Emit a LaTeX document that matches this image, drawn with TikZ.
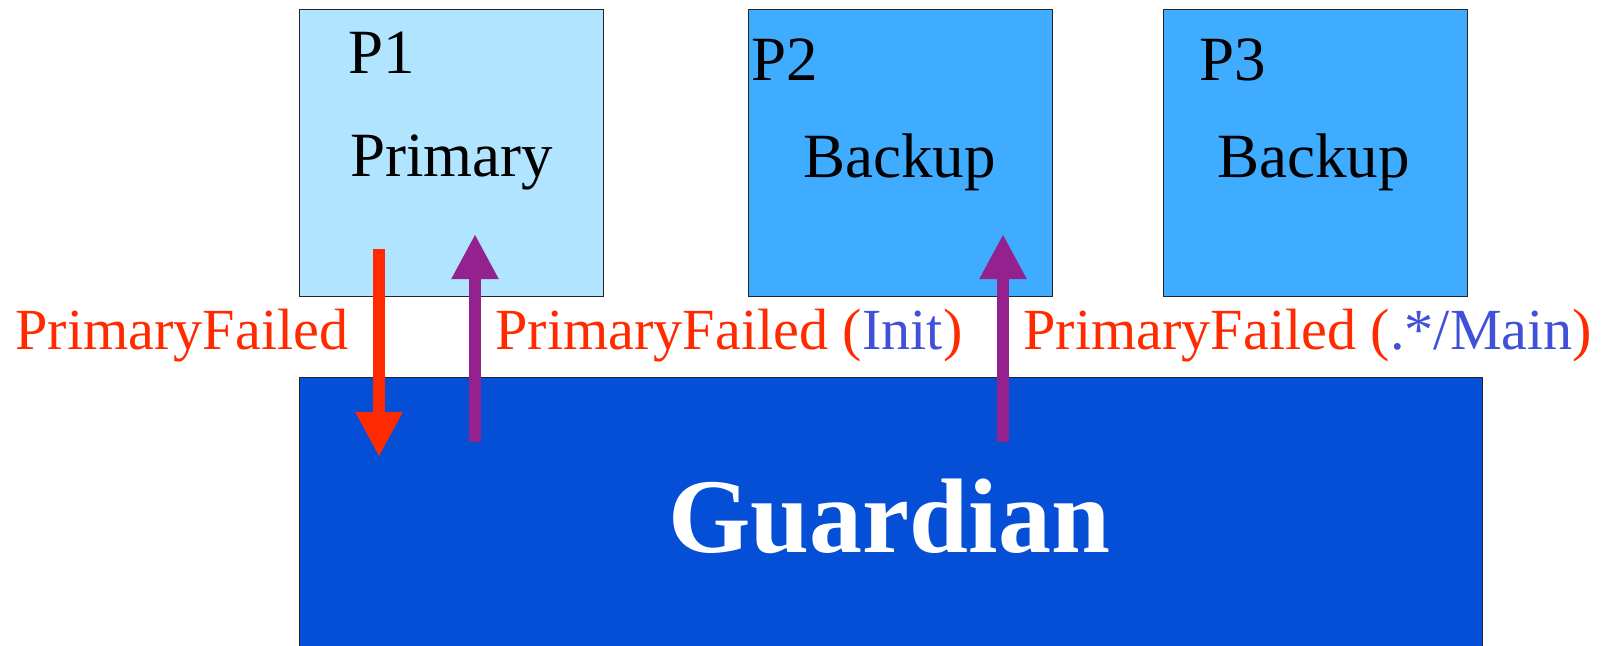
\documentclass[tikz,border=0pt]{standalone}
\usepackage{fontspec}
\setmainfont{Liberation Serif}
\usetikzlibrary{arrows.meta}
\definecolor{lightP}{HTML}{B0E4FF}
\definecolor{midP}{HTML}{40ACFF}
\definecolor{guardC}{HTML}{054ED6}
\definecolor{redC}{HTML}{FF2A00}
\definecolor{purpC}{HTML}{93228E}
\definecolor{blueT}{HTML}{4050D8}
\tikzset{
  procbox/.style={draw=black!85, line width=0.6pt, inner sep=0, anchor=north west, minimum width=152pt, minimum height=143.5pt},
  boxlabel/.style={anchor=base west, inner sep=0, font=\fontsize{31.5}{36}\selectfont, text=black},
  msglabel/.style={anchor=base west, inner sep=0, font=\fontsize{29.1}{34}\selectfont, text=redC},
  sig/.style={line width=6pt, -{Triangle[width=22pt,length=22.5pt]}},
}
\begin{document}
\begin{tikzpicture}[x=0.5pt,y=-0.5pt]
\useasboundingbox (0,0) rectangle (1604,645);
% process boxes
\node[procbox, fill=lightP] (p1) at (299,9) {};
\node[procbox, fill=midP] (p2) at (748,9) {};
\node[procbox, fill=midP] (p3) at (1163,9) {};
% guardian
\node[draw=black!85, line width=0.6pt, fill=guardC, inner sep=0, anchor=north west, minimum width=591.5pt, minimum height=150pt] (g) at (299,377) {};
\node[anchor=base west, inner sep=0, text=white, font=\fontsize{53}{60}\selectfont\bfseries] (gl) at (668,552) {Guardian};
% box texts
\node[boxlabel] (p1a) at (348,73) {P1};
\node[boxlabel] (p1b) at (350,176) {Primary};
\node[boxlabel] (p2a) at (751,80) {P2};
\node[boxlabel] (p2b) at (803,177) {Backup};
\node[boxlabel] (p3a) at (1199,80) {P3};
\node[boxlabel] (p3b) at (1217,177) {Backup};
% message labels
\node[msglabel] (m1) at (15,349) {PrimaryFailed};
\node[msglabel] (m2) at (495,349) {PrimaryFailed (\textcolor{blueT}{Init})};
\node[msglabel] (m3) at (1023,349) {PrimaryFailed (\textcolor{blueT}{.*/Main})};
% arrow end points
\coordinate (a1s) at (379,249);
\coordinate (a1e) at (379,457);
\coordinate (a2s) at (475,442);
\coordinate (a2e) at (475,234);
\coordinate (a3s) at (1003,442);
\coordinate (a3e) at (1003,234);
\draw[sig, redC] (a1s) -- (a1e);
\draw[sig, purpC] (a2s) -- (a2e);
\draw[sig, purpC] (a3s) -- (a3e);
\end{tikzpicture}
\end{document}
